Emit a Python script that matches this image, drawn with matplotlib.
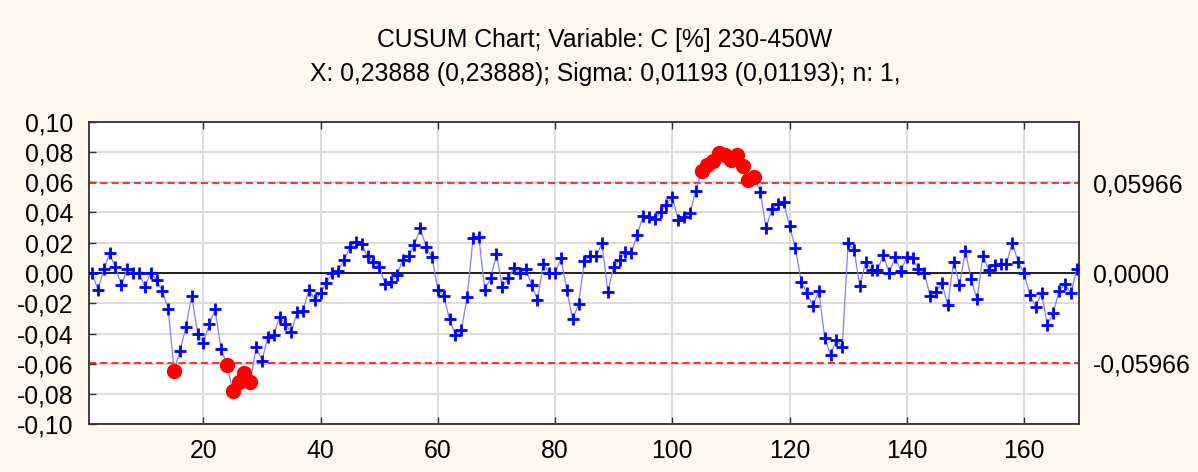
import numpy as np
import matplotlib.pyplot as plt
from matplotlib.ticker import FuncFormatter

plt.rcParams['font.family'] = ['Liberation Sans', 'DejaVu Sans']

title1 = 'CUSUM Chart; Variable: C [%] 230-450W'
title2 = 'X: 0,23888 (0,23888); Sigma: 0,01193 (0,01193); n: 1,'

limit = 0.05966
cusum = [
    0.000, -0.011, 0.0024, 0.013, 0.0037, -0.008, 0.0024, 0.0003, 0.000, -0.009,
    0.000, -0.0046, -0.012, -0.024, -0.0647, -0.0515, -0.036, -0.015, -0.040, -0.046,
    -0.034, -0.024, -0.050, -0.0605, -0.078, -0.072, -0.066, -0.072, -0.049, -0.058,
    -0.042, -0.041, -0.029, -0.034, -0.039, -0.026, -0.025, -0.011, -0.018, -0.013,
    -0.0064, 0.000, 0.0015, 0.0086, 0.017, 0.0205, 0.019, 0.011, 0.0075, 0.004,
    -0.007, -0.006, -0.0013, 0.0086, 0.011, 0.0185, 0.0295, 0.0174, 0.0103, -0.011,
    -0.015, -0.0306, -0.041, -0.038, -0.016, 0.0229, 0.0235, -0.011, -0.0035, 0.0125,
    -0.009, -0.0035, 0.003, 0.000, 0.0026, -0.008, -0.018, 0.006, 0.000, 0.000,
    0.0097, -0.011, -0.0306, -0.0207, 0.008, 0.011, 0.011, 0.0196, -0.0123, 0.004,
    0.0086, 0.014, 0.0134, 0.025, 0.0376, 0.0367, 0.0354, 0.0405, 0.0449, 0.0504,
    0.035, 0.0367, 0.0394, 0.0543, 0.0673, 0.0713, 0.074, 0.079, 0.078, 0.0746,
    0.078, 0.0706, 0.0614, 0.0636, 0.0537, 0.030, 0.042, 0.0455, 0.047, 0.031,
    0.0163, -0.0057, -0.0134, -0.0218, -0.0119, -0.0427, -0.054, -0.044, -0.049, 0.0196,
    0.0152, -0.0084, 0.0075, 0.002, 0.002, 0.012, 0.000, 0.0103, 0.0015, 0.0103,
    0.0097, 0.0024, 0.000, -0.0154, -0.0123, -0.0068, -0.0211, 0.0075, -0.008, 0.0147,
    -0.0042, -0.0174, 0.0112, 0.002, 0.0053, 0.006, 0.006, 0.020, 0.0075, 0.000,
    -0.0145, -0.0222, -0.0134, -0.0343, -0.0262, -0.0117, -0.0073, -0.0134, 0.0024,
]
sample = np.arange(1, len(cusum) + 1)
yticks = np.arange(-0.10, 0.1001, 0.02)
xticks = [20, 40, 60, 80, 100, 120, 140, 160]
right_ticks = [limit, 0.0, -limit]
right_labels = ['0,05966', '0,0000', '-0,05966']

bg = '#fdf8ee'
fs = 17.8
fig = plt.figure(figsize=(11.98, 4.72), dpi=100, facecolor=bg)
ax = fig.add_axes([0.0739, 0.1011, 0.9007 - 0.0739, 0.7422 - 0.1011])
ax.set_facecolor('white')

y = np.array(cusum)
out = np.abs(y) > limit

ax.plot(sample, y, color='#8080ff', lw=0.9, zorder=3)
ax.plot(sample[~out], y[~out], ls='none', marker='+', ms=9, mew=2,
        color='#0000ff', zorder=4)
ax.plot(sample[out], y[out], ls='none', marker='o', ms=10,
        color='#ff0000', mec='#ff0000', zorder=5)

ax.axhline(0, color='black', lw=1.2, zorder=2)
for v in (limit, -limit):
    ax.axhline(v, color='#ff2020', lw=1.3, ls=(0, (4, 2.2)), zorder=2)

ax.set_xlim(0.4, 169.4)
ax.set_ylim(-0.10, 0.10)
ax.set_xticks(xticks)
ax.set_yticks(yticks)
ax.yaxis.set_major_formatter(FuncFormatter(lambda v, p: f'{round(v, 2):.2f}'.replace('.', ',').replace('-0,00', '0,00')))
ax.grid(True, color='#dcdcdc', lw=1.4, zorder=1)
ax.tick_params(direction='in', top=True, right=True, length=5, width=1,
               labelsize=fs, color='#303030')
ax.tick_params(axis='y', pad=11)
ax.tick_params(axis='x', pad=10.5)
for s in ax.spines.values():
    s.set_color('#303030')
    s.set_linewidth(1.3)

ax2 = ax.twinx()
ax2.set_ylim(ax.get_ylim())
ax2.set_yticks(right_ticks)
ax2.set_yticklabels(right_labels)
ax2.tick_params(length=0, pad=10, labelsize=fs)
for s in ax2.spines.values():
    s.set_visible(False)

fig.text(0.505, 0.901, title1, ha='center', va='baseline', fontsize=fs)
fig.text(0.505, 0.829, title2, ha='center', va='baseline', fontsize=fs)

fig.savefig('out.png', dpi=100, facecolor=bg)
